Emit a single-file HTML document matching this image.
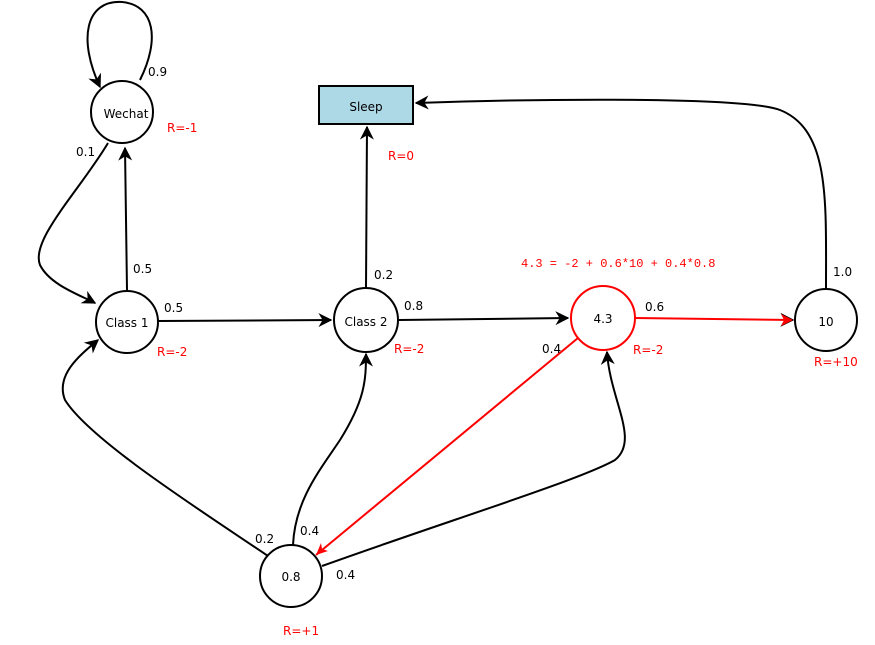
<!DOCTYPE html>
<html><head><meta charset="utf-8"><style>
html,body{margin:0;padding:0;background:#fff;}
svg text{font-family:"DejaVu Sans","Liberation Sans",sans-serif;font-size:12px;}
</style></head><body>
<svg width="875" height="640" viewBox="0 0 875 640" xmlns="http://www.w3.org/2000/svg">
<defs>
<marker id="a" viewBox="0 0 10 10" refX="9" refY="5" markerWidth="8" markerHeight="8" orient="auto" markerUnits="userSpaceOnUse"><path d="M0,0 L10,5 L0,10 L3,5 z" fill="#000"/></marker>
<marker id="r" viewBox="0 0 10 10" refX="9" refY="5" markerWidth="8" markerHeight="8" orient="auto" markerUnits="userSpaceOnUse"><path d="M0,0 L10,5 L0,10 L3,5 z" fill="#f00"/></marker>
<marker id="a2" viewBox="0 0 10 10" refX="9" refY="5" markerWidth="14" markerHeight="14" orient="auto" markerUnits="userSpaceOnUse"><path d="M0,0 L10,5 L0,10 L3,5 z" fill="#000"/></marker>
</defs>
<g fill="none" stroke="#000" stroke-width="2">
<path d="M140,80 C160,40 155,5 122,2 C85,0 78,40 100,87" marker-end="url(#a2)"/>
<path d="M108,143 C80,190 30,240 40,265 C50,285 80,295 95,303" marker-end="url(#a2)"/>
<path d="M127,290 L125,148" marker-end="url(#a2)"/>
<path d="M158,321 L331,320" marker-end="url(#a2)"/>
<path d="M366,288 L367,127" marker-end="url(#a2)"/>
<path d="M399,320 L568,318" marker-end="url(#a2)"/>
<path d="M826,289 C826,200 830,130 780,110 C740,95 500,100 416,103" marker-end="url(#a2)"/>
<path d="M268,556 C200,510 90,440 65,400 C55,375 80,355 98,340" marker-end="url(#a2)"/>
<path d="M293,545 C295,500 320,470 340,440 C365,400 366,380 366,354" marker-end="url(#a2)"/>
<path d="M322,566 C450,520 580,480 615,460 C640,440 610,400 607,352" marker-end="url(#a2)"/>
</g>
<g fill="none" stroke="#f00" stroke-width="2">
<path d="M635,318 L793,320" marker-end="url(#a2)" stroke="#f00"/>
<path d="M578,338 L316,555" stroke="#f00"/>
</g>
<path d="M793,320 l-12,-6 l3,6 l-3,6z" fill="#f00"/>
<path d="M316,555 l5,-12 l1,6 l6,2z" fill="#f00"/>
<g fill="#fff" stroke="#000" stroke-width="2">
<circle cx="122" cy="112" r="31"/>
<circle cx="127" cy="322" r="31"/>
<circle cx="366" cy="320" r="32"/>
<circle cx="603" cy="318" r="32" stroke="#f00"/>
<circle cx="826" cy="320" r="31"/>
<circle cx="291" cy="576" r="31"/>
<rect x="319" y="86" width="94" height="38" fill="#add8e6"/>
</g>
<g text-anchor="middle">
<text x="126" y="118">Wechat</text>
<text x="127" y="327">Class 1</text>
<text x="366" y="326">Class 2</text>
<text x="603" y="323">4.3</text>
<text x="826" y="326">10</text>
<text x="291" y="581">0.8</text>
<text x="366" y="111">Sleep</text>
</g>
<g>
<text x="148" y="76">0.9</text>
<text x="76" y="156">0.1</text>
<text x="133" y="273">0.5</text>
<text x="164" y="312">0.5</text>
<text x="374" y="279">0.2</text>
<text x="404" y="310">0.8</text>
<text x="645" y="311">0.6</text>
<text x="542" y="353">0.4</text>
<text x="833" y="276">1.0</text>
<text x="255" y="543">0.2</text>
<text x="300" y="535">0.4</text>
<text x="336" y="579">0.4</text>
</g>
<g fill="#f00">
<text x="167" y="132">R=-1</text>
<text x="157" y="356">R=-2</text>
<text x="388" y="160">R=0</text>
<text x="394" y="353">R=-2</text>
<text x="633" y="354">R=-2</text>
<text x="814" y="366">R=+10</text>
<text x="283" y="635">R=+1</text>
<text x="521" y="267" style="font-family:'Liberation Mono',monospace;font-size:12px">4.3 = -2 + 0.6*10 + 0.4*0.8</text>
</g>
</svg>
</body></html>
